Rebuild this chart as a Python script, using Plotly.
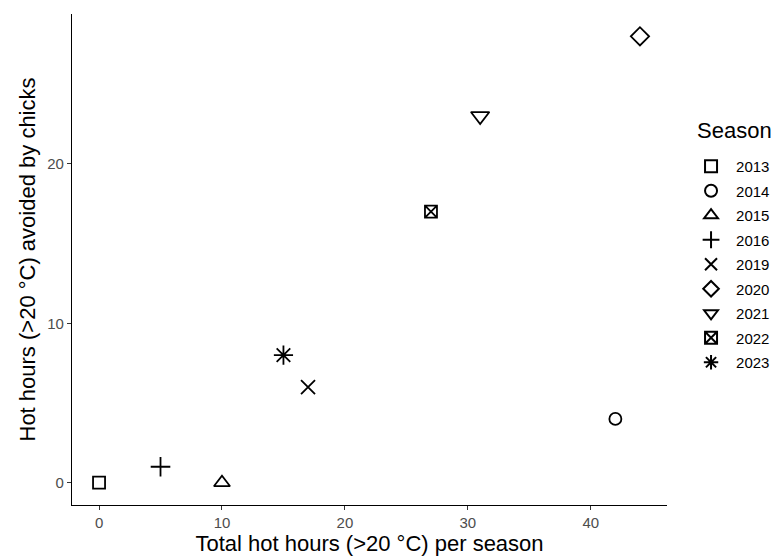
import plotly.graph_objects as go

seasons = ["2013", "2014", "2015", "2016", "2019", "2020", "2021", "2022", "2023"]
total_hot_hours = [0, 42, 10, 5, 17, 44, 31, 27, 15]
avoided_hours = [0, 4, 0, 1, 6, 28, 23, 17, 8]
symbols = ["square-open", "circle-open", "triangle-up-open", "cross-thin-open",
           "x-thin-open", "diamond-open", "triangle-down-open", "square-x-open",
           "asterisk-open"]
sizes = [12, 12, 14, 14, 14, 14, 16, 12, 16]

fig = go.Figure()
for s, x, y, sym, sz in zip(seasons, total_hot_hours, avoided_hours, symbols, sizes):
    fig.add_trace(go.Scatter(
        x=[x], y=[y], mode="markers", name=s, legendgroup=s,
        marker=dict(symbol=sym, size=sz, color="black",
                    line=dict(color="black", width=1.8)),
    ))

font = "Liberation Sans, Arial, Helvetica, sans-serif"
fig.update_layout(
    width=781, height=559,
    margin=dict(l=64, r=122, t=6, b=62),
    plot_bgcolor="white", paper_bgcolor="white",
    font=dict(family=font, color="black"),
    showlegend=True,
    legend=dict(
        x=1.032, y=0.723, xanchor="left", yanchor="top",
        font=dict(size=15, color="black"),
        tracegroupgap=2,
        itemsizing="constant",
        itemwidth=40,
    ),
    annotations=[dict(
        text="Season", x=1.047, y=0.7637, xref="paper", yref="paper",
        xanchor="left", yanchor="middle", showarrow=False,
        font=dict(size=22, color="black"),
    )],
    xaxis=dict(
        range=[-2.2, 46.2], tickvals=[0, 10, 20, 30, 40],
        showgrid=False, zeroline=False,
        showline=True, linecolor="black", linewidth=1.3,
        ticks="outside", ticklen=4, tickcolor="#333333", tickwidth=1.1,
        tickfont=dict(size=15, color="#4D4D4D"),
        title=dict(text="Total hot hours (>20 °C) per season",
                   font=dict(size=22, color="black"), standoff=3),
    ),
    yaxis=dict(
        range=[-1.4, 29.4], tickvals=[0, 10, 20],
        showgrid=False, zeroline=False,
        showline=True, linecolor="black", linewidth=1.3,
        ticks="outside", ticklen=4, tickcolor="#333333", tickwidth=1.1,
        tickfont=dict(size=15, color="#4D4D4D"),
        title=dict(text="Hot hours (>20 °C) avoided by chicks",
                   font=dict(size=22, color="black"), standoff=5),
    ),
)

fig.write_html("out.html")
